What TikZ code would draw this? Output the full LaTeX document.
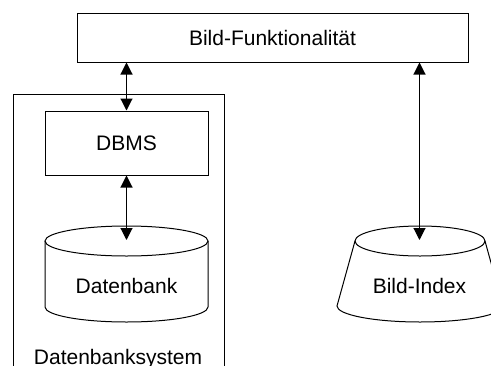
\documentclass[tikz,border=0pt]{standalone}
\usepackage{fontspec}
\setmainfont{Liberation Sans}
\usetikzlibrary{arrows.meta}
\begin{document}
\begin{tikzpicture}[x=1pt,y=-1pt,
  line width=1pt,
  every node/.style={font=\fontsize{21}{25}\selectfont},
  box/.style={draw, rectangle, inner sep=0pt},
  link/.style={{Triangle[width=12pt,length=12pt]}-{Triangle[width=12pt,length=12pt]}, line width=1.1pt},
  label/.style={anchor=base, inner sep=0pt}]
\useasboundingbox (0,0) rectangle (491,365);

% application layer on top
\node[box, minimum width=391pt, minimum height=49pt] (func) at (272.5,37.5) {Bild-Funktionalit\"at};

% database system frame (open towards the bottom)
\draw (13,366) -- (13,94) -- (224,94) -- (224,366);
\node[label] (dbsys) at (118,364) {Datenbanksystem};

% DBMS
\node[box, minimum width=163pt, minimum height=64pt] (dbms) at (126.5,143) {DBMS};

% database cylinder
\draw (126.5,241) ellipse [x radius=81.5, y radius=15];
\draw (45,241) -- (45,307) arc [start angle=180, end angle=0, x radius=81.5, y radius=15] -- (208,241);
\coordinate (dbtop) at (126.5,240);
\node[label] (db) at (126.5,293) {Datenbank};

% image index (truncated cone)
\begin{scope}
\clip (0,0) rectangle (491,365);
\draw (420,241) ellipse [x radius=65, y radius=15];
\draw (355,241) -- (337,306) arc [start angle=180, end angle=0, x radius=83, y radius=16] -- (485,241);
\end{scope}
\coordinate (idxtop) at (419.5,240);
\node[label] (idx) at (419.5,293) {Bild-Index};

% connectors
\draw[link] (dbms.north |- func.south) -- (dbms.north);
\draw[link] (dbms.south) -- (dbtop);
\draw[link] (func.south -| idxtop) -- (idxtop);
\end{tikzpicture}
\end{document}
